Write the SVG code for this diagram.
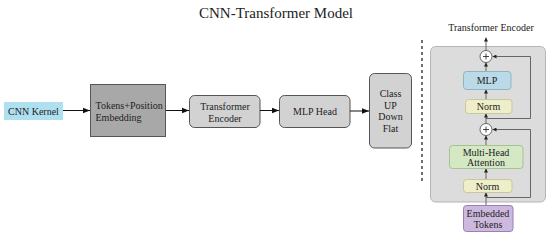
<svg xmlns="http://www.w3.org/2000/svg" width="550" height="236" viewBox="0 0 550 236">
<style>
text{font-family:"Liberation Serif","Times New Roman",serif;fill:#222}
.t{font-size:10px;text-anchor:middle}
.s{font-size:10px;text-anchor:middle}
.box{fill:#d2d2d2;stroke:#555;stroke-width:1}
.c{fill:none;stroke:#111;stroke-width:1}
.g{fill:none;stroke:#666;stroke-width:1}
</style>
<defs>
<marker id="a" viewBox="0 0 10 10" refX="10" refY="5" markerWidth="7" markerHeight="7" orient="auto" markerUnits="userSpaceOnUse"><path d="M0,1 L10,5 L0,9 Z" fill="#111"/></marker>
<marker id="b" viewBox="0 0 10 10" refX="10" refY="5" markerWidth="4" markerHeight="4" orient="auto" markerUnits="userSpaceOnUse"><path d="M0,0 L10,5 L0,10 Z" fill="#222"/></marker>
</defs>
<text x="276" y="18" style="font-size:15px;text-anchor:middle">CNN-Transformer Model</text>
<g id="cnn"><rect x="4" y="102" width="59" height="18" fill="#aee0ef"/><text class="t" x="33.5" y="114.5">CNN Kernel</text></g>
<g id="tokens"><rect x="90.5" y="84.5" width="75" height="52" fill="#a8a8a8" stroke="#555"/><text x="95.5" y="109" style="font-size:10px">Tokens+Position</text><text x="95.5" y="121" style="font-size:10px">Embedding</text></g>
<g id="encoder"><rect class="box" x="189.5" y="95.5" width="70.5" height="32" rx="5"/><text class="t" x="225" y="110">Transformer</text><text class="t" x="225" y="121.5">Encoder</text></g>
<g id="mlphead"><rect class="box" x="279.5" y="95.5" width="70.5" height="32" rx="5"/><text class="t" x="315" y="115">MLP Head</text></g>
<g id="class"><rect class="box" x="369.5" y="73.5" width="42" height="74.5" rx="5"/><text class="t" x="390.5" y="97">Class</text><text class="t" x="390.5" y="108.5">UP</text><text class="t" x="390.5" y="120">Down</text><text class="t" x="390.5" y="131.5">Flat</text></g>
<g id="connectors">
<path class="c" d="M63,110.5 H90" marker-end="url(#a)"/>
<path class="c" d="M166,110.5 H189" marker-end="url(#a)"/>
<path class="c" d="M260,110.5 H279" marker-end="url(#a)"/>
<path class="c" d="M350,111 H369" marker-end="url(#a)"/>
</g>
<line x1="422" y1="40" x2="422" y2="183" stroke="#111" stroke-width="1.2" stroke-dasharray="3,3"/>
<text class="s" x="491" y="31">Transformer Encoder</text>
<g id="panel"><rect x="430.5" y="46.5" width="115" height="155.5" rx="5" fill="#dcdcdc" stroke="#b5b5b5"/></g>
<g id="enc-connectors">
<path class="g" d="M486,50 V37.5" marker-end="url(#b)"/>
<path class="g" d="M486,71 V62.5" marker-end="url(#b)"/>
<path class="g" d="M486,99 V89.5" marker-end="url(#b)"/>
<path class="g" d="M486,123 V113.5" marker-end="url(#b)"/>
<path class="g" d="M486,145 V135.5" marker-end="url(#b)"/>
<path class="g" d="M486,179 V168.5" marker-end="url(#b)"/>
<path class="g" d="M486,205 V192.5" marker-end="url(#b)"/>
<path class="g" d="M486,118.5 H530.5 V56.5 H492.5" marker-end="url(#b)"/>
<path class="g" d="M486,197.5 H530.5 V129.5 H492.5" marker-end="url(#b)"/>
</g>
<g id="plus1"><circle cx="486" cy="56.5" r="6" fill="#fff" stroke="#666"/><path d="M483,56.5 H489 M486,53.5 V59.5" stroke="#333" stroke-width="0.9"/></g>
<g id="mlp"><rect x="463.5" y="71.5" width="47.5" height="18" rx="3" fill="#b9dae6" stroke="#8fb5c5"/><text class="s" x="487" y="84">MLP</text></g>
<g id="norm1"><rect x="465.5" y="99.5" width="46.5" height="14" rx="3" fill="#eeeec8" stroke="#c8c89a"/><text class="s" x="488.5" y="110">Norm</text></g>
<g id="plus2"><circle cx="486" cy="129.5" r="6" fill="#fff" stroke="#666"/><path d="M483,129.5 H489 M486,126.5 V132.5" stroke="#333" stroke-width="0.9"/></g>
<g id="mha"><rect x="449.5" y="145.5" width="73.5" height="23" rx="3" fill="#d5e8c4" stroke="#a6c290"/><text class="s" x="486" y="155.5">Multi-Head</text><text class="s" x="486" y="166">Attention</text></g>
<g id="norm2"><rect x="463.5" y="179.5" width="48.5" height="13" rx="3" fill="#eeeec8" stroke="#c8c89a"/><text class="s" x="487.5" y="189.5">Norm</text></g>
<g id="embedded"><rect x="463.5" y="205.5" width="49.5" height="26" rx="3" fill="#cdb9de" stroke="#9b7fb5"/><text class="s" x="488" y="216.5">Embedded</text><text class="s" x="488" y="228">Tokens</text></g>
</svg>
